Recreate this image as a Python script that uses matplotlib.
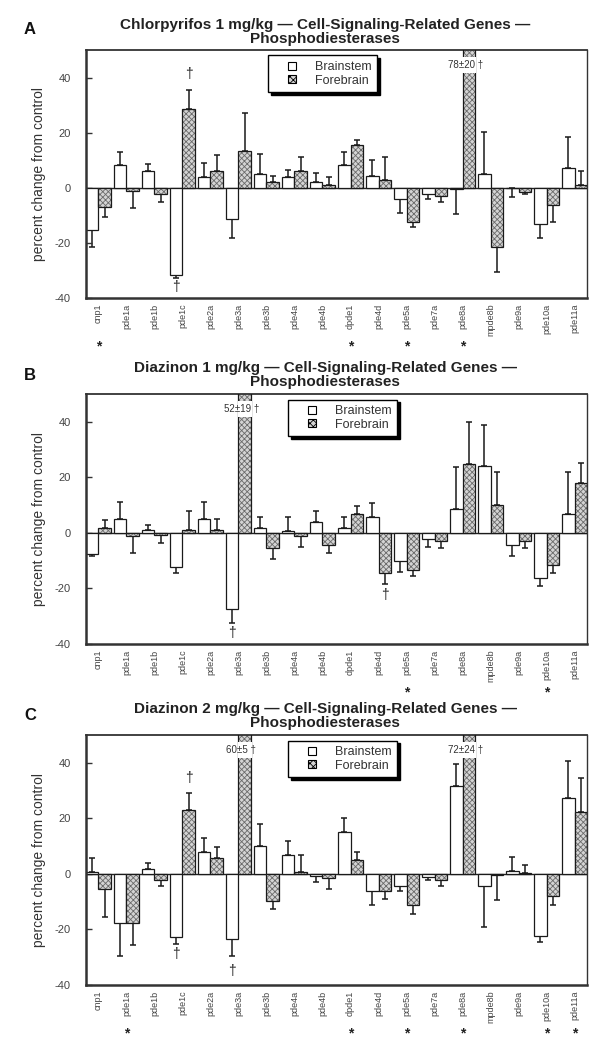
import matplotlib
matplotlib.use("Agg")
import matplotlib.pyplot as plt
from matplotlib.patches import Patch, Rectangle
from matplotlib.legend_handler import HandlerPatch
import numpy as np

plt.rcParams['font.family'] = ['Liberation Sans', 'DejaVu Sans']
plt.rcParams['hatch.linewidth'] = 0.6

genes = ['cnp1', 'pde1a', 'pde1b', 'pde1c', 'pde2a', 'pde3a', 'pde3b', 'pde4a', 'pde4b',
         'dpde1', 'pde4d', 'pde5a', 'pde7a', 'pde8a', 'mpde8b', 'pde9a', 'pde10a', 'pde11a']

# Panel A: Chlorpyrifos 1 mg/kg
A_bs = [-15.4, 8.1, 6.0, -31.5, 4.0, -11.3, 5.1, 4.0, 2.2, 8.1, 4.1, -4.0, -2.1, -0.4, 5.1, -0.2, -13.3, 7.3]
A_bs_err = [6, 5, 2.5, 1.2, 5, 7, 7, 2.3, 3, 5, 6, 5, 2, 9, 15, 3, 5, 11]
A_fb = [-7.0, -1.2, -2.2, 28.5, 6.0, 13.3, 2.2, 6.0, 1.0, 15.4, 3.0, -12.4, -3.0, 78, -21.5, -1.5, -6.3, 1.0]
A_fb_err = [3.5, 6, 3, 7, 6, 14, 2, 5, 3, 2, 8, 2, 2, 20, 9, 0.6, 6, 5]
A_stars = ['cnp1', 'dpde1', 'pde5a', 'pde8a']
A_daggers = [('pde1c', 'bs', -36.0), ('pde1c', 'fb', 41.4)]
A_big = [('pde8a', '78±20')]

# Panel B: Diazinon 1 mg/kg
B_bs = [-7.5, 5.1, 1.0, -12.3, 5.0, -27.3, 1.8, 0.8, 3.8, 1.8, 5.7, -10.0, -2.2, 8.7, 24.0, -4.2, -16.2, 6.8]
B_bs_err = [1, 6, 2, 2, 6, 5, 4, 5, 4, 4, 5, 4, 3, 15, 15, 4, 3, 15]
B_fb = [1.8, -1.2, -0.8, 1.0, 1.0, 52, -5.4, -1.2, -4.2, 6.8, -14.4, -13.4, -3.0, 24.9, 10.0, -3.0, -11.4, 18.0]
B_fb_err = [3, 6, 3, 7, 4, 19, 4, 4, 3, 3, 4, 2, 2.5, 15, 12, 2.5, 3, 7]
B_stars = ['pde5a', 'pde10a']
B_daggers = [('pde3a', 'bs', -35.9), ('pde4d', 'fb', -22.5)]
B_big = [('pde3a', '52±19')]

# Panel C: Diazinon 2 mg/kg
C_bs = [0.7, -17.6, 1.9, -22.7, 7.9, -23.6, 10.0, 6.8, -0.8, 15.2, -6.1, -4.2, -1.2, 31.5, -4.2, 1.0, -22.4, 27.5]
C_bs_err = [5, 12, 2, 2.5, 5, 6, 8, 5, 2, 5, 5, 2, 1, 8, 15, 5, 2, 13]
C_fb = [-5.4, -17.6, -2.3, 23.1, 5.8, 60, -9.6, 0.7, -1.5, 5.0, -6.1, -11.3, -2.2, 72, -0.3, 0.2, -8.1, 22.4]
C_fb_err = [10, 8, 2, 6, 4, 5, 3, 6, 4, 3, 3, 3, 2, 24, 9, 3, 3, 12]
C_stars = ['pde1a', 'dpde1', 'pde5a', 'pde8a', 'pde10a', 'pde11a']
C_daggers = [('pde1c', 'fb', 34.5), ('pde1c', 'bs', -28.7), ('pde3a', 'bs', -34.8)]
C_big = [('pde3a', '60±5'), ('pde8a', '72±24')]

titles1 = ['Chlorpyrifos 1 mg/kg — Cell-Signaling-Related Genes —',
           'Diazinon 1 mg/kg — Cell-Signaling-Related Genes —',
           'Diazinon 2 mg/kg — Cell-Signaling-Related Genes —']
title2 = 'Phosphodiesterases'
letters = ['A', 'B', 'C']
yticks = [-40, -20, 0, 20, 40]
ylabel = 'percent change from control'
legend_labels = ['Brainstem', 'Forebrain']

W, H = 600, 1046
fig = plt.figure(figsize=(W / 100, H / 100), dpi=100)

boxes = [(50, 298), (394, 644), (735, 985)]
legend_x = [0.363, 0.403, 0.403]
title_y = [25, 368, 709]
letter_y = [30, 376, 716]
YMIN, YMAX = -40, 50
w = 0.445
HCOL = '#d4d4d4'
HEDGE = '#6a6a6a'


def small_square(legend, orig_handle, xdescent, ydescent, width, height, fontsize):
    s = 0.62 * fontsize
    cx = -xdescent + width / 2
    cy = -ydescent + height / 2
    return Rectangle((cx - s / 2, cy - s / 2), s, s)


panels = [
    (A_bs, A_bs_err, A_fb, A_fb_err, A_stars, A_daggers, A_big),
    (B_bs, B_bs_err, B_fb, B_fb_err, B_stars, B_daggers, B_big),
    (C_bs, C_bs_err, C_fb, C_fb_err, C_stars, C_daggers, C_big),
]

x = np.arange(len(genes))
for k, (bs, bse, fb, fbe, stars, daggers, big) in enumerate(panels):
    top, bot = boxes[k]
    ax = fig.add_axes([86 / W, 1 - bot / H, 501 / W, (bot - top) / H])
    bs = np.array(bs, float); fb = np.array(fb, float)
    bse = np.array(bse, float); fbe = np.array(fbe, float)

    ax.axhline(0, color='#222222', lw=1.0, zorder=1)
    ax.bar(x - w, bs, width=w, align='edge', facecolor='white', edgecolor='#1a1a1a', lw=0.9, zorder=2)
    ax.bar(x, fb, width=w, align='edge', facecolor=HCOL, edgecolor=HEDGE, lw=0, hatch='xxxxxx', zorder=2)
    ax.bar(x, fb, width=w, align='edge', fill=False, edgecolor='#1a1a1a', lw=0.9, zorder=3)

    for vals, errs, off in [(bs, bse, -w / 2), (fb, fbe, w / 2)]:
        ok = vals < YMAX
        lo = np.where(vals < 0, errs, 0)
        hi = np.where(vals >= 0, errs, 0)
        ax.errorbar(x[ok] + off, vals[ok], yerr=[lo[ok], hi[ok]], fmt='none', ecolor='#1a1a1a',
                    elinewidth=1.1, capsize=2.2, capthick=1.1, zorder=1.5)

    for g, which, yv in daggers:
        i = genes.index(g)
        xx = i - w / 2 if which == 'bs' else i + w / 2
        ax.text(xx, yv, '†', ha='center', va='center', fontsize=10, color='#222222', zorder=5)

    for g, lab in big:
        i = genes.index(g)
        ax.add_patch(Rectangle((i - 0.02, 41.8), w + 0.04, 5.8, facecolor='white',
                               edgecolor='none', zorder=5))
        ax.text(i + 0.1, 44.6, lab + ' †', ha='center', va='center', fontsize=7, color='#333333',
                zorder=6)

    ax.set_xlim(-w, len(genes) - 1 + w)
    ax.set_ylim(YMIN, YMAX)
    ax.set_yticks(yticks)
    ax.set_yticklabels([str(t) for t in yticks], fontsize=8, color='#444444')
    ax.tick_params(axis='y', direction='in', length=4.5, width=1.0, pad=11, color='#333333')
    ax.set_xticks(x)
    ax.set_xticklabels(genes, rotation=90, fontsize=6.5, color='#444444', va='top')
    ax.tick_params(axis='x', length=0, pad=4)
    ax.set_ylabel(ylabel, fontsize=10, color='#333333', labelpad=6)

    for s, lw in [('left', 1.8), ('bottom', 1.8), ('top', 1.3), ('right', 1.0)]:
        ax.spines[s].set_linewidth(lw)
        ax.spines[s].set_color('#333333')

    for g in stars:
        i = genes.index(g)
        ax.annotate('*', xy=(i, 0), xycoords=ax.get_xaxis_transform(), xytext=(0, -35),
                    textcoords='offset points', ha='center', va='center', fontsize=10,
                    fontweight='bold', color='#222222')

    handles = [Patch(facecolor='white', edgecolor='black', lw=0.8),
               Patch(facecolor=HCOL, edgecolor='black', lw=0.8, hatch='xxxxx')]
    leg = ax.legend(handles, legend_labels, loc='upper left', bbox_to_anchor=(legend_x[k], 0.978),
                    fontsize=9, frameon=True, fancybox=False, shadow={'color': 'black', 'alpha': 1},
                    edgecolor='black', handlelength=3.0, handleheight=0.8, handletextpad=0.3,
                    borderpad=0.45, labelspacing=0.1, borderaxespad=0,
                    handler_map={Patch: HandlerPatch(patch_func=small_square)})
    leg.get_frame().set_linewidth(1.0)
    for t in leg.get_texts():
        t.set_color('#333333')
    leg.set_zorder(7)

    fig.text(0.542, 1 - title_y[k] / H, titles1[k], ha='center', va='center', fontsize=11,
             fontweight='bold', color='#222222')
    fig.text(0.542, 1 - (title_y[k] + 14) / H, title2, ha='center', va='center', fontsize=11,
             fontweight='bold', color='#222222')
    fig.text(30 / W, 1 - letter_y[k] / H, letters[k], ha='center', va='center', fontsize=12,
             fontweight='bold', color='#111111')

fig.savefig('out.png', dpi=100)
